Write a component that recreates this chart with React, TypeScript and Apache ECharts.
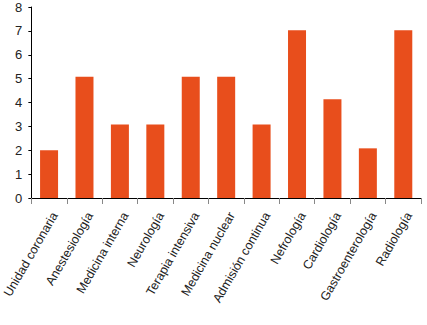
import React, { useEffect, useRef } from "react";
import * as echarts from "echarts";

const categories = [
  "Unidad coronaria",
  "Anestesiología",
  "Medicina interna",
  "Neurología",
  "Terapia intensiva",
  "Medicina nuclear",
  "Admisión continua",
  "Nefrología",
  "Cardiología",
  "Gastroenterología",
  "Radiología",
];
const values = [2, 5.08, 3.08, 3.08, 5.08, 5.08, 3.08, 7.03, 4.14, 2.08, 7.03];
const yTicks = [0, 1, 2, 3, 4, 5, 6, 7, 8];

export default function App() {
  const ref = useRef<HTMLDivElement>(null);
  useEffect(() => {
    if (!ref.current) return;
    const chart = echarts.init(ref.current, undefined, { renderer: "svg" });
    chart.setOption({
      animation: false,
      grid: { left: 30.5, right: 6, top: 7, bottom: 127, containLabel: false },
      xAxis: {
        type: "category",
        data: categories,
        axisLine: { show: true, lineStyle: { color: "#000", width: 1 } },
        axisTick: { show: true, length: 6, lineStyle: { color: "#888" } },
        axisLabel: {
          rotate: 60,
          interval: 0,
          margin: 12,
          verticalAlign: "top",
          color: "#222",
          fontSize: 12.5,
          fontFamily: "Liberation Sans, Arial, sans-serif",
        },
      },
      yAxis: {
        type: "value",
        min: yTicks[0],
        max: yTicks[yTicks.length - 1],
        interval: 1,
        splitLine: { show: false },
        axisLine: { show: true, lineStyle: { color: "#000", width: 1 } },
        axisTick: { show: true, length: 3, lineStyle: { color: "#000" } },
        axisLabel: {
          margin: 9,
          color: "#222",
          fontSize: 13,
          fontFamily: "Liberation Sans, Arial, sans-serif",
        },
      },
      series: [
        {
          type: "bar",
          data: values,
          barWidth: 18,
          itemStyle: { color: "#E84E1C" },
        },
      ],
    });
    return () => chart.dispose();
  }, []);
  return <div ref={ref} style={{ width: 427, height: 325, position: "absolute", left: 0, top: 0 }} />;
}
